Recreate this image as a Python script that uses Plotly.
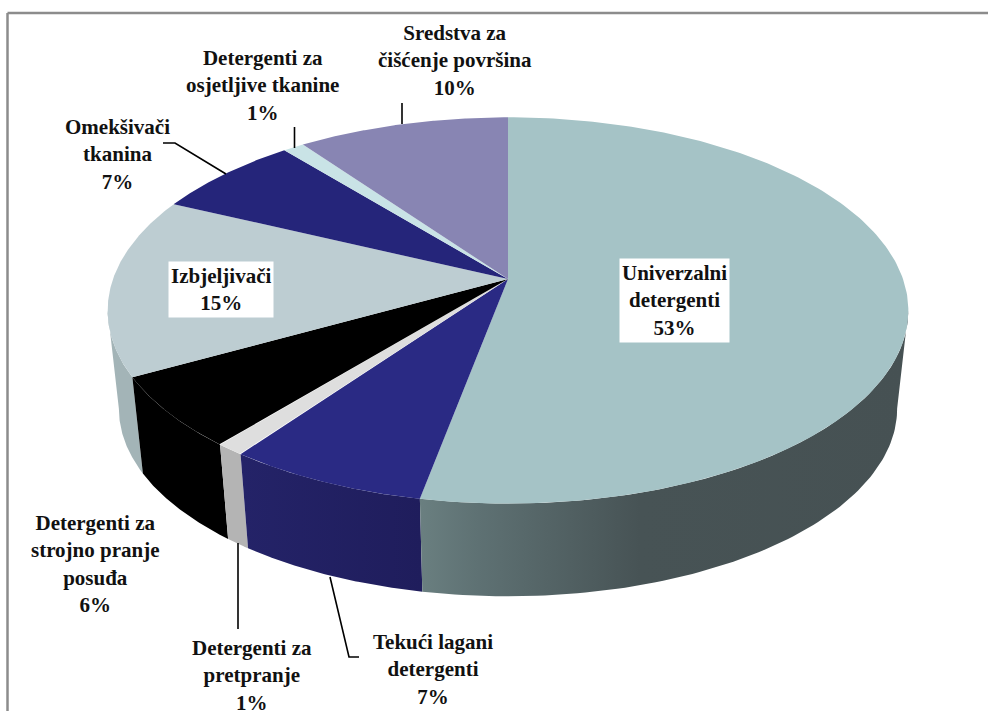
import numpy as np
import plotly.graph_objects as go

categories = ["Univerzalni<br>detergenti", "Tekući lagani<br>detergenti", "Detergenti za<br>pretpranje",
              "Detergenti za<br>strojno pranje<br>posuđa", "Izbjeljivači", "Omekšivači<br>tkanina",
              "Detergenti za<br>osjetljive tkanine", "Sredstva za<br>čišćenje površina"]
values = [53, 7, 1, 6, 15, 7, 1, 10]
top_colors = ["#A5C3C6", "#2A2A84", "#DEDEDE", "#000000", "#BDCDD2", "#25257A", "#C9E3E6", "#8885B3"]
side_colors = [
    [[0, "#6A7F80"], [0.12, "#5E7173"], [0.45, "#475355"], [1, "#465153"]],
    [[0, "#242368"], [1, "#1F1D5C"]],
    [[0, "#B4B4B4"], [1, "#B4B4B4"]],
    [[0, "#000000"], [1, "#000000"]],
    [[0, "#A3B4B7"], [1, "#A3B4B7"]],
]
label_pos = [(674, 300), (433, 669), (252, 675), (95, 564), (221, 289), (117, 154), (262, 85), (455, 60)]
label_bg = [True, False, False, False, True, False, False, False]

CX, CY, RX, RY, K = 508, 279, 395, 188, 0.163
SCALE, DROP = 0.972, 99
FONT = "Liberation Serif"
FS = 21


def ring(theta, lower=False):
    u, v = np.sin(theta), np.cos(theta)
    w = 1 + K * v
    x, y = RX * u / w, -RY * v / w
    if lower:
        return CX + SCALE * x, CY + SCALE * y + DROP
    return CX + x, CY + y


fig = go.Figure()
edges = np.cumsum([0] + values) / sum(values) * 2 * np.pi
vis_a, vis_b = np.arccos(-K), 2 * np.pi - np.arccos(-K)

# sides, back to front
for i in [4, 3, 2, 1, 0]:
    a, b = max(edges[i], vis_a), min(edges[i + 1], vis_b)
    t = np.linspace(a, b, 90)
    x1, y1 = ring(t)
    x2, y2 = ring(t[::-1], True)
    fig.add_trace(go.Scatter(x=np.r_[x1, x2, x1[0]], y=np.r_[y1, y2, y1[0]], mode="lines", line=dict(width=0),
                             fill="toself",
                             fillgradient=dict(type="horizontal", colorscale=side_colors[i]),
                             hoverinfo="skip", showlegend=False))
# tops
for i, c in enumerate(top_colors):
    t = np.linspace(edges[i], edges[i + 1], 200)
    x1, y1 = ring(t)
    fig.add_trace(go.Scatter(x=np.r_[CX, x1, CX], y=np.r_[CY, y1, CY], mode="lines", line=dict(width=0),
                             fill="toself", fillcolor=c, hoverinfo="skip", showlegend=False))

leaders = [
    [(402, 103), (402, 124)],
    [(294.5, 127), (294.5, 148)],
    [(163, 143), (175, 143), (226, 174)],
    [(238, 543), (238, 629)],
    [(330, 577), (349, 657), (359, 657)],
]
for pts in leaders:
    fig.add_trace(go.Scatter(x=[p[0] for p in pts], y=[p[1] for p in pts], mode="lines",
                             line=dict(color="#000000", width=1.6), hoverinfo="skip", showlegend=False))

for cat, val, (lx, ly), bg in zip(categories, values, label_pos, label_bg):
    fig.add_annotation(x=lx, y=ly, text=f"<b>{cat}<br>{val}%</b>", showarrow=False, align="center",
                       font=dict(family=FONT, size=FS, color="#111111"),
                       bgcolor="#FFFFFF" if bg else None, borderpad=2)

frame = dict(type="line", line=dict(color="#8C8C8C", width=2.5))
fig.add_shape(x0=7.5, x1=7.5, y0=13, y1=711, **frame)
fig.add_shape(x0=7.5, x1=988, y0=13, y1=13, **frame)

fig.update_layout(width=988, height=711, margin=dict(l=0, r=0, t=0, b=0), paper_bgcolor="#FFFFFF",
                  plot_bgcolor="#FFFFFF", showlegend=False,
                  xaxis=dict(range=[0, 988], visible=False, fixedrange=True),
                  yaxis=dict(range=[711, 0], visible=False, fixedrange=True))
fig.write_html("out.html", config={"displayModeBar": False},
               post_script="document.body.style.margin='0';document.body.style.overflow='hidden';")
